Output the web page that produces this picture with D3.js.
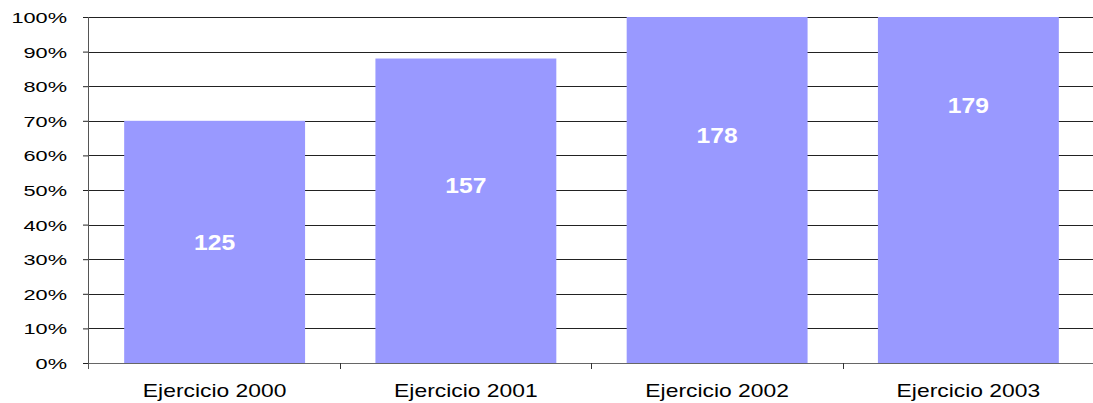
<!DOCTYPE html>
<html>
<head>
<meta charset="utf-8">
<script src="https://cdn.jsdelivr.net/npm/d3@7"></script>
<style>
  body { margin: 0; background: #fff; }
  text { font-family: Arial, "Liberation Sans", sans-serif; }
</style>
</head>
<body>
<div class="chart"></div>
<script>
// Bar chart, percent scale
var categories = ["Ejercicio 2000", "Ejercicio 2001", "Ejercicio 2002", "Ejercicio 2003"];
var percentValues = [70, 88, 100, 100];
var countLabels = ["125", "157", "178", "179"];
var labelLevels = [35, 51.4, 66, 74.6];
var yTicks = [0, 10, 20, 30, 40, 50, 60, 70, 80, 90, 100];

var svgWidth = 1093;
var svgHeight = 403;
var margin = {top: 17, right: -1, bottom: 40, left: 89};
var width = svgWidth - margin.left - margin.right;
var height = svgHeight - margin.top - margin.bottom;

var svg = d3.select(".chart")
  .append("svg")
  .attr("width", svgWidth)
  .attr("height", svgHeight);

var chart = svg.append("g")
  .attr("transform", "translate(" + margin.left + "," + margin.top + ")");

var xBand = d3.scaleBand().domain(categories).range([0, width]).paddingInner(0.28).paddingOuter(0.14);
var yLinearScale = d3.scaleLinear().domain([0, 100]).range([height, 0]);

// gridlines
chart.append("g")
  .selectAll("line")
  .data(yTicks.filter(function(d) { return d > 0; }))
  .enter()
  .append("line")
  .attr("x1", 0)
  .attr("x2", width)
  .attr("y1", function(d) { return Math.round(yLinearScale(d)) + 0.5; })
  .attr("y2", function(d) { return Math.round(yLinearScale(d)) + 0.5; })
  .attr("stroke", "#222")
  .attr("stroke-width", 1);

// bars
chart.selectAll("rect")
  .data(percentValues)
  .enter()
  .append("rect")
  .attr("x", function(d, i) { return xBand(categories[i]); })
  .attr("width", xBand.bandwidth())
  .attr("y", function(d) { return yLinearScale(d); })
  .attr("height", function(d) { return height - yLinearScale(d); })
  .attr("fill", "#9999ff");

// value labels (text in the original is a bit stretched sideways)
chart.selectAll(".abbr")
  .data(countLabels)
  .enter()
  .append("text")
  .attr("class", "abbr")
  .attr("transform", function(d, i) {
    return "translate(" + (xBand(categories[i]) + xBand.bandwidth() / 2) + "," + yLinearScale(labelLevels[i]) + ") scale(1.12,1)";
  })
  .attr("dy", "0.36em")
  .attr("text-anchor", "middle")
  .style("font-size", "22px")
  .style("font-weight", "bold")
  .style("fill", "white")
  .text(function(d) { return d; });

// y axis
var leftAxis = d3.axisLeft(yLinearScale)
  .tickValues(yTicks)
  .tickFormat("")
  .tickSize(6);
var yAxis = chart.append("g").attr("class", "y-axis").call(leftAxis);
yAxis.select(".domain").remove();
yAxis.selectAll(".tick line").attr("stroke", "#222");
yAxis.selectAll(".ylab")
  .data(yTicks)
  .enter()
  .append("text")
  .attr("class", "ylab")
  .attr("transform", function(d) { return "translate(-22," + yLinearScale(d) + ") scale(1.45,1)"; })
  .attr("dy", "0.4em")
  .attr("text-anchor", "end")
  .style("font-size", "15px")
  .style("fill", "#000")
  .text(function(d) { return d + "%"; });
yAxis.append("line")
  .attr("x1", -0.5).attr("x2", -0.5)
  .attr("y1", 0).attr("y2", height + 6)
  .attr("stroke", "#555");

// x axis with ticks at band boundaries
var xAxisG = chart.append("g")
  .attr("class", "x-axis")
  .attr("transform", "translate(0," + height + ")");
xAxisG.append("line")
  .attr("x1", 0).attr("x2", width)
  .attr("y1", 0.5).attr("y2", 0.5)
  .attr("stroke", "#666");
var step = xBand.step();
xAxisG.selectAll(".sep")
  .data(categories.slice(1))
  .enter()
  .append("line")
  .attr("class", "sep")
  .attr("x1", function(d) { return Math.round(xBand(d) - xBand.paddingInner() * step / 2) + 0.5; })
  .attr("x2", function(d) { return Math.round(xBand(d) - xBand.paddingInner() * step / 2) + 0.5; })
  .attr("y1", 0).attr("y2", 6)
  .attr("stroke", "#333");
xAxisG.selectAll(".cat")
  .data(categories)
  .enter()
  .append("text")
  .attr("class", "cat")
  .attr("transform", function(d) { return "translate(" + (xBand(d) + xBand.bandwidth() / 2) + ",34) scale(1.27,1)"; })
  .attr("text-anchor", "middle")
  .style("font-size", "18px")
  .style("fill", "#000")
  .text(function(d) { return d; });
</script>
</body>
</html>
